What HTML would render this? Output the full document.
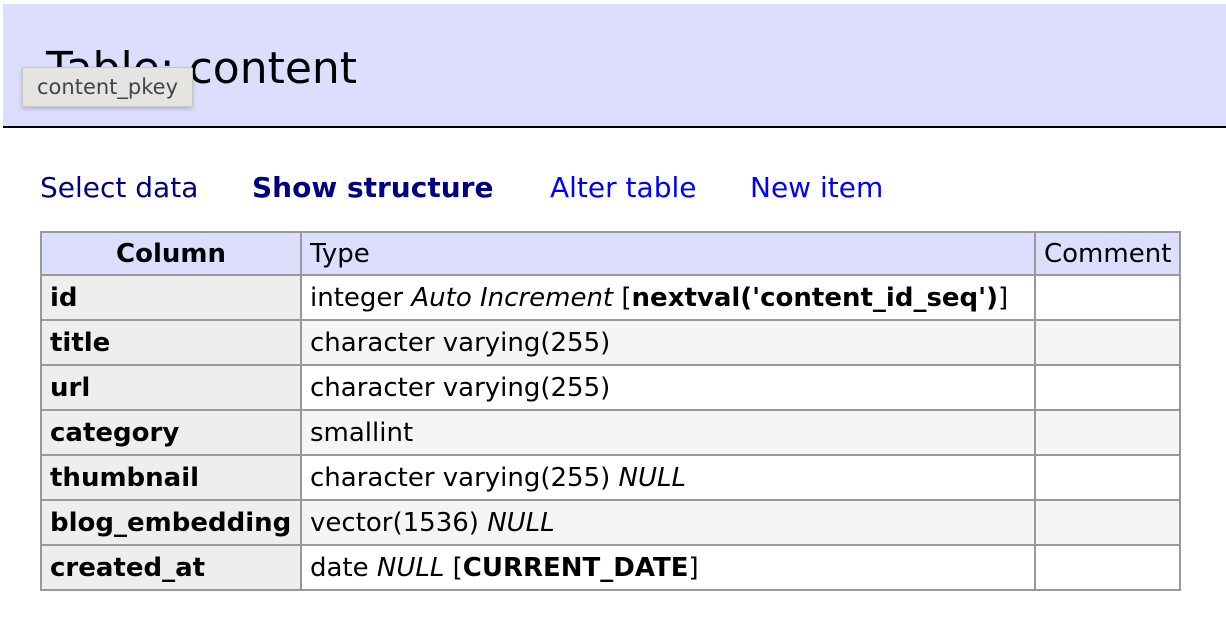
<!DOCTYPE html>
<html><head><meta charset="utf-8"><style>
body{margin:0;width:1226px;height:618px;background:#fff;font-family:"DejaVu Sans","Liberation Sans",sans-serif;position:relative;overflow:hidden}
.hdr{position:absolute;left:3px;top:4px;width:1223px;height:122px;background:#ddf;border-bottom:2px solid #000}
.hdr h2{position:absolute;left:43px;top:40px;margin:0;font-weight:normal;font-size:44px;line-height:50px;color:#000}
.tip{position:absolute;left:22px;top:67px;width:169px;height:38px;background:#e6e4e1;border:1px solid #c8c6c4;border-radius:2px;box-shadow:0 2px 5px rgba(0,0,0,.2);font-size:21px;line-height:38px;color:#444;text-align:center}
.links{position:absolute;top:170px;left:40px;font-size:28px;line-height:36px}
.links a{position:absolute;white-space:nowrap;text-decoration:none;color:#00f}
table{position:absolute;left:40px;top:231px;border-collapse:collapse;font-size:26px}
td,th{border:2px solid #999;padding:0 8px;height:43px;white-space:nowrap;text-align:left}
thead th,thead td{height:41px}
th{background:#eee;font-weight:bold}
thead th,thead td{background:#ddf}
thead th{text-align:center}
tr.o td{background:#f5f5f5}
</style></head><body>
<div class="hdr"><h2>Table: content</h2></div>
<div class="tip">content_pkey</div>
<div class="links">
<a style="left:0;color:#000080">Select data</a>
<a style="left:212px;color:#000080;font-weight:bold">Show structure</a>
<a style="left:510px">Alter table</a>
<a style="left:710px">New item</a>
</div>
<table>
<thead><tr><th style="width:242px">Column</th><td style="width:716px">Type</td><td style="width:126px">Comment</td></tr></thead>
<tr><th>id</th><td>integer <i>Auto Increment</i> [<b>nextval('content_id_seq')</b>]</td><td></td></tr>
<tr class="o"><th>title</th><td>character varying(255)</td><td></td></tr>
<tr><th>url</th><td>character varying(255)</td><td></td></tr>
<tr class="o"><th>category</th><td>smallint</td><td></td></tr>
<tr><th>thumbnail</th><td>character varying(255) <i>NULL</i></td><td></td></tr>
<tr class="o"><th>blog_embedding</th><td>vector(1536) <i>NULL</i></td><td></td></tr>
<tr><th>created_at</th><td>date <i>NULL</i> [<b>CURRENT_DATE</b>]</td><td></td></tr>
</table>
</body></html>
